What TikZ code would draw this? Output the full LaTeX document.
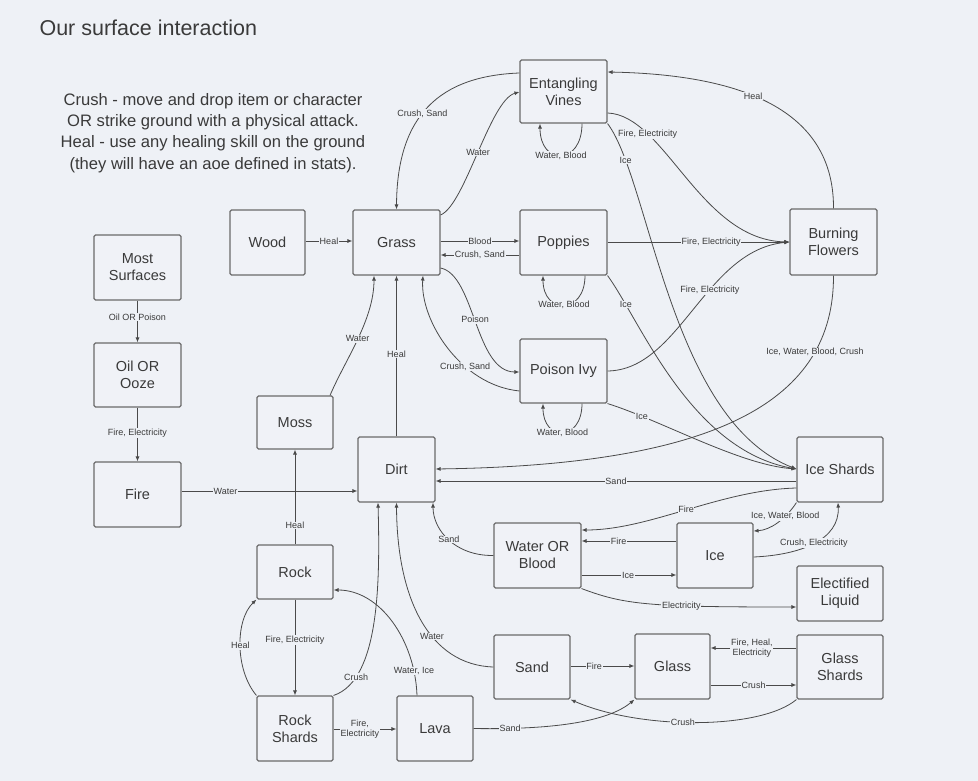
\documentclass[tikz,border=0pt]{standalone}
\usepackage{fontspec}
\setmainfont{Liberation Sans}
\usetikzlibrary{arrows.meta}
\definecolor{bg}{HTML}{EEF1F6}
\definecolor{boxf}{HTML}{F0F2F7}
\definecolor{boxc}{HTML}{6A6A6A}
\definecolor{linec}{HTML}{4A4A4A}
\definecolor{txt}{HTML}{3A3A3A}
\begin{document}
\begin{tikzpicture}[x=1pt,y=-1pt,
  box/.style={draw=boxc, fill=boxf, line width=1.1pt, rounded corners=1.5pt, align=center, text=txt,
    font=\fontsize{14.5}{17}\selectfont, inner sep=0pt},
  wbox/.style={box, minimum width=87pt, minimum height=65pt},
  nbox/.style={box, minimum width=76pt, minimum height=65pt},
  lbl/.style={fill=bg, inner sep=0.6pt, text=txt, font=\fontsize{9}{9.5}\selectfont, align=center},
  con/.style={draw=linec, line width=0.8pt, -{Latex[length=5pt,width=4pt]}},
]
\fill[bg] (0,0) rectangle (978,781);
\useasboundingbox (0,0) rectangle (978,781);

\node[anchor=west, text=txt, font=\fontsize{21.5}{24}\selectfont] (title) at (36,28) {Our surface interaction};
\node[align=center, text=txt, font=\fontsize{16.6}{21.3}\selectfont] (desc) at (213,133)
  {Crush - move and drop item or character\\OR strike ground with a physical attack.\\Heal - use any healing skill on the ground\\(they will have an aoe defined in stats).};

% nodes
\node[wbox, minimum height=63pt] (vines) at (563.5,91.5) {Entangling\\Vines};
\node[wbox, minimum height=66pt] (bf) at (833.5,242) {Burning\\Flowers};
\node[wbox] (grass) at (396.5,242.5) {Grass};
\node[wbox] (poppies) at (563.5,242.5) {Poppies};
\node[wbox, minimum height=64pt] (ivy) at (563.5,371) {Poison Ivy};
\node[nbox, minimum width=75pt] (wood) at (267.5,242.5) {Wood};
\node[wbox] (most) at (137.5,267.5) {Most\\Surfaces};
\node[wbox, minimum height=64pt] (oil) at (137.5,375) {Oil OR\\Ooze};
\node[wbox] (fire) at (137.5,494.5) {Fire};
\node[nbox, minimum height=53pt] (moss) at (295,422.5) {Moss};
\node[nbox, minimum width=77pt] (dirt) at (396.5,469.5) {Dirt};
\node[wbox] (wb) at (537.5,555.5) {Water OR\\Blood};
\node[nbox] (ice) at (715,555.5) {Ice};
\node[wbox, minimum width=86pt] (shards) at (840,469.5) {Ice Shards};
\node[wbox, minimum width=86pt, minimum height=55pt] (el) at (840,593.5) {Electified\\Liquid};
\node[wbox, minimum width=86pt, minimum height=64pt] (gshards) at (840,667) {Glass\\Shards};
\node[nbox, minimum width=75pt] (glass) at (672.5,666.5) {Glass};
\node[nbox, minimum height=64pt] (sand) at (532,667) {Sand};
\node[nbox, minimum height=54pt] (rock) at (295,572) {Rock};
\node[nbox] (rshards) at (295,728.5) {Rock\\Shards};
\node[nbox] (lava) at (435,728.5) {Lava};

% straight connectors
\draw[con] (most) -- node[lbl,pos=.4] (l1) {Oil OR Poison} (oil);
\draw[con] (oil) -- node[lbl,pos=.47] (l2) {Fire, Electricity} (fire);
\draw[con] (wood.east |- 0,241) -- node[lbl,pos=.5] (l3) {Heal} (grass.west |- 0,241);
\draw[con] (grass.east |- 0,241) -- node[lbl,pos=.5] (l4) {Blood} (poppies.west |- 0,241);
\draw[con] (poppies.west |- 0,255) -- node[lbl,pos=.5] (l5) {Crush, Sand} (grass.east |- 0,255);
\draw[con] (rock) -- node[lbl,pos=.2] (l6) {Heal} (moss);
\draw[con] (rock) -- node[lbl,pos=.42] (l7) {Fire, Electricity} (rshards);
\draw[con] (dirt) -- node[lbl,pos=.51] (l8) {Heal} (grass);
\draw[con] (fire.east |- 0,491) -- node[lbl,pos=.25] (l9) {Water} (dirt.west |- 0,491);
\draw[con] (rshards.east |- 0,729) -- node[lbl,pos=.42] (l10) {Fire,\\Electricity} (lava.west |- 0,729);
\draw[con] (sand.east |- 0,666) -- node[lbl,pos=.37] (l11) {Fire} (glass.west |- 0,666);
\draw[con] (gshards.west |- 0,648) -- node[lbl,pos=.52] (l12) {Fire, Heal,\\Electricity} (glass.east |- 0,648);
\draw[con] (glass.east |- 0,685) -- node[lbl,pos=.5] (l13) {Crush} (gshards.west |- 0,685);
\draw[con] (ice.west |- 0,541) -- node[lbl,pos=.61] (l14) {Fire} (wb.east |- 0,541);
\draw[con] (wb.east |- 0,575) -- node[lbl,pos=.49] (l15) {Ice} (ice.west |- 0,575);
\draw[con] (shards.west |- 0,481) -- node[lbl,pos=.5] (l16) {Sand} (dirt.east |- 0,481);
\draw[con] (poppies.east |- 0,242) -- node[lbl,pos=.57] (l17) {Fire, Electricity} (bf.west |- 0,242);

% curved connectors
\draw[con] (grass.east |- 0,215) .. controls (465,205) and (490,100) .. node[lbl,pos=.5] (l18) {Water} (vines.west |- 0,92);
\draw[con] (vines.west |- 0,73) .. controls (440,76) and (397,115) .. node[lbl,pos=.55] (l19) {Crush, Sand} (grass.north);
\draw[con] (vines.south -| 582,0) .. controls (582,166) and (540,166) .. node[lbl,pos=.5] (l20) {Water, Blood} (vines.south -| 540,0);
\draw[con] (poppies.south -| 585,0) .. controls (585,315) and (543,315) .. node[lbl,pos=.5] (l21) {Water, Blood} (poppies.south -| 543,0);
\draw[con] (ivy.south -| 582,0) .. controls (582,442) and (543,442) .. node[lbl,pos=.5] (l22) {Water, Blood} (ivy.south -| 543,0);
\draw[con] (grass.east |- 0,268) .. controls (475,275) and (475,372) .. node[lbl,pos=.48] (l23) {Poison} (ivy.west |- 0,372);
\draw[con] (ivy.west |- 0,391) .. controls (460,385) and (420,320) .. node[lbl,pos=.35] (l24) {Crush, Sand} (grass.south -| 423,0);
\draw[con] (vines.east |- 0,113) .. controls (665,115) and (700,240) .. node[lbl,pos=.25] (l25) {Fire, Electricity} (bf.west |- 0,242);
\draw[con] (ivy.east) .. controls (680,370) and (705,250) .. node[lbl,pos=.6] (l26) {Fire, Electricity} (bf.west |- 0,242);
\draw[con] (bf.north) .. controls (834,120) and (760,75) .. node[lbl,pos=.6] (l27) {Heal} (vines.east |- 0,72);
\draw[con] (vines.south east) .. controls (650,180) and (670,420) .. node[lbl,pos=.15] (l28) {Ice} (shards.west |- 0,469);
\draw[con] (poppies.south east) .. controls (640,320) and (690,450) .. node[lbl,pos=.17] (l29) {Ice} (shards.west |- 0,469);
\draw[con] (ivy.south east) .. controls (660,420) and (740,465) .. node[lbl,pos=.2] (l30) {Ice} (shards.west |- 0,469);
\draw[con] (bf.south) .. controls (834,400) and (720,465) .. node[lbl,pos=.23] (l31) {Ice, Water, Blood, Crush} (dirt.east |- 0,469);
\draw[con] (shards.west |- 0,488) .. controls (720,490) and (650,530) .. node[lbl,pos=.5] (l32) {Fire} (wb.east |- 0,530);
\draw[con] (shards.south west) .. controls (785,520) and (770,530) .. node[lbl,pos=.3] (l33) {Ice, Water, Blood} (ice.east |- 0,531);
\draw[con] (ice.east |- 0,557) .. controls (800,555) and (840,540) .. node[lbl,pos=.5] (l34) {Crush, Electricity} (shards.south -| 838,0);
\draw[con] (wb.south east) .. controls (625,605) and (650,607) .. node[lbl,pos=.65] (l35) {Electricity} (el.west |- 0,607);
\draw[con] (wb.west) .. controls (455,556) and (433,530) .. node[lbl,pos=.5] (l36) {Sand} (dirt.south -| 433,0);
\draw[con] (sand.west) .. controls (430,665) and (397,600) .. node[lbl,pos=.4] (l37) {Water} (dirt.south);
\draw[con] (rshards.north east) .. controls (380,680) and (380,580) .. node[lbl,pos=.2] (l38) {Crush} (dirt.south -| 378,0);
\draw[con] (lava.north -| 417,0) .. controls (415,640) and (380,590) .. node[lbl,pos=.15] (l39) {Water, Ice} (rock.east |- 0,590);
\draw[con] (moss.north -| 330,0) .. controls (345,360) and (374,320) .. node[lbl,pos=.5] (l40) {Water} (grass.south -| 374,0);
\draw[con] (rshards.north west) .. controls (235,670) and (235,620) .. node[lbl,pos=.5] (l41) {Heal} (rock.south west);
\draw[con] (lava.east) .. controls (560,730) and (610,720) .. node[lbl,pos=.15] (l42) {Sand} (glass.south west);
\draw[con] (gshards.south west) .. controls (760,730) and (640,730) .. node[lbl,pos=.55] (l43) {Crush} (sand.south east);
\end{tikzpicture}
\end{document}
